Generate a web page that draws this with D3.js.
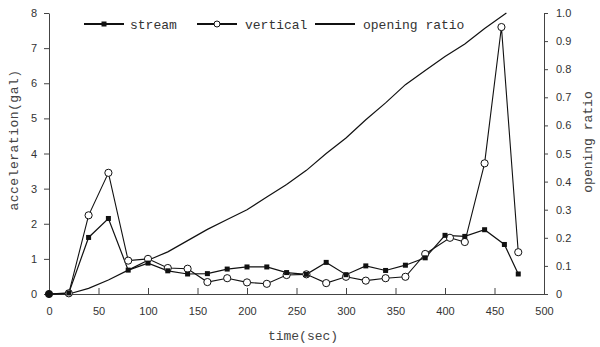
<!DOCTYPE html>
<html>
<head>
<meta charset="utf-8">
<script src="https://cdn.jsdelivr.net/npm/d3@7"></script>
<style>
  body { margin: 0; background: #fff; }
  svg text { font-family: "DejaVu Sans", sans-serif; }
  .tick text { font-family: "Liberation Sans Narrow", "Liberation Sans", sans-serif; font-size: 11px; fill: #333; }
  .axis-title { font-family: "Liberation Mono", monospace; font-size: 13px; fill: #444; }
  .legend-text { font-family: "Liberation Mono", monospace; font-size: 13px; fill: #333; }
</style>
</head>
<body>
<div id="chart"></div>
<script>
// stream acceleration (gal)
var streamTime = [0, 20, 40, 60, 80, 100, 120, 140, 160, 180, 200, 220, 240, 260, 280, 300, 320, 340, 360, 380, 400, 420, 440, 460, 474];
var streamAcc = [0, 0.03, 1.61, 2.15, 0.68, 0.88, 0.66, 0.57, 0.58, 0.71, 0.77, 0.77, 0.61, 0.56, 0.9, 0.55, 0.8, 0.67, 0.82, 1.03, 1.67, 1.64, 1.83, 1.41, 0.57];

// vertical acceleration (gal)
var verticalTime = [0, 20, 40, 60, 80, 100, 120, 140, 160, 180, 200, 220, 240, 260, 280, 300, 320, 340, 360, 380, 405, 420, 440, 457, 474];
var verticalAcc = [0, 0.02, 2.24, 3.45, 0.95, 1.0, 0.74, 0.72, 0.34, 0.45, 0.33, 0.29, 0.54, 0.56, 0.31, 0.49, 0.38, 0.45, 0.49, 1.14, 1.6, 1.48, 3.72, 7.6, 1.19];

// gate opening ratio (right axis)
var ratioTime = [0, 20, 40, 60, 80, 100, 120, 140, 160, 180, 200, 220, 240, 260, 280, 300, 320, 340, 360, 380, 400, 420, 440, 462];
var ratioValue = [0, 0, 0.02, 0.05, 0.085, 0.12, 0.15, 0.19, 0.23, 0.265, 0.3, 0.345, 0.39, 0.44, 0.5, 0.555, 0.62, 0.68, 0.745, 0.795, 0.845, 0.89, 0.945, 1.0];

var xTicks = [0, 50, 100, 150, 200, 250, 300, 350, 400, 450, 500];
var yLeftTicks = [0, 1, 2, 3, 4, 5, 6, 7, 8];
var yRightTicks = [0, 0.1, 0.2, 0.3, 0.4, 0.5, 0.6, 0.7, 0.8, 0.9, 1.0];

var width = 600, height = 347;
var margin = { top: 13, right: 56, bottom: 53, left: 49 };
var w = width - margin.left - margin.right;
var h = height - margin.top - margin.bottom;

var svg = d3.select("#chart").append("svg")
  .attr("width", width)
  .attr("height", height);

var g = svg.append("g")
  .attr("transform", "translate(" + margin.left + "," + margin.top + ")");

var x = d3.scaleLinear().domain([0, 500]).range([0, w]);
var yL = d3.scaleLinear().domain([0, 8]).range([h, 0]);
var yR = d3.scaleLinear().domain([0, 1]).range([h, 0]);

// axes
var xAxis = g.append("g")
  .attr("transform", "translate(0," + h + ")")
  .call(d3.axisBottom(x).tickValues(xTicks).tickSizeInner(-6).tickSizeOuter(0).tickPadding(13));
xAxis.selectAll(".tick line").filter(function (d) { return d === 0 || d === 500 }).remove();

g.append("g")
  .call(d3.axisLeft(yL).tickValues(yLeftTicks).tickSizeInner(5).tickSizeOuter(0).tickPadding(7));

g.append("g")
  .attr("transform", "translate(" + w + ",0)")
  .call(d3.axisRight(yR).tickValues(yRightTicks).tickSizeInner(4).tickSizeOuter(0).tickPadding(8)
    .tickFormat(function (d) { return d === 0 ? "0" : d3.format(".1f")(d) }));

g.selectAll(".domain").attr("stroke", "#444");
g.selectAll(".tick line").attr("stroke", "#444");

// lines
var streamLine = d3.line()
  .x(function (d, i) { return x(streamTime[i]) })
  .y(function (d) { return yL(d) });
var verticalLine = d3.line()
  .x(function (d, i) { return x(verticalTime[i]) })
  .y(function (d) { return yL(d) });
var ratioLine = d3.line()
  .x(function (d, i) { return x(ratioTime[i]) })
  .y(function (d) { return yR(d) });

g.append("path")
  .attr("d", ratioLine(ratioValue))
  .attr("fill", "none")
  .attr("stroke", "#111")
  .attr("stroke-width", 1.2);

g.append("path")
  .attr("d", verticalLine(verticalAcc))
  .attr("fill", "none")
  .attr("stroke", "#111")
  .attr("stroke-width", 1.1);

g.append("path")
  .attr("d", streamLine(streamAcc))
  .attr("fill", "none")
  .attr("stroke", "#111")
  .attr("stroke-width", 1.2);

g.selectAll(".vertical-dot")
  .data(verticalAcc)
  .enter()
  .append("circle")
  .attr("class", "vertical-dot")
  .attr("cx", function (d, i) { return x(verticalTime[i]) })
  .attr("cy", function (d) { return yL(d) })
  .attr("r", 3.6)
  .attr("fill", "#fff")
  .attr("stroke", "#111")
  .attr("stroke-width", 1);

g.selectAll(".stream-dot")
  .data(streamAcc)
  .enter()
  .append("rect")
  .attr("class", "stream-dot")
  .attr("x", function (d, i) { return x(streamTime[i]) - 2.5 })
  .attr("y", function (d) { return yL(d) - 2.5 })
  .attr("width", 5)
  .attr("height", 5)
  .attr("fill", "#111");

// first point shows as a solid dot
g.append("circle")
  .attr("cx", x(streamTime[0]))
  .attr("cy", yL(streamAcc[0]))
  .attr("r", 3.6)
  .attr("fill", "#111");

// legend
var legend = svg.append("g");
legend.append("line").attr("x1", 84).attr("x2", 124).attr("y1", 24).attr("y2", 24)
  .attr("stroke", "#111").attr("stroke-width", 2);
legend.append("rect").attr("x", 101.5).attr("y", 21.5).attr("width", 5).attr("height", 5).attr("fill", "#111");
legend.append("text").attr("class", "legend-text").attr("x", 130).attr("y", 29).text("stream");

legend.append("line").attr("x1", 197).attr("x2", 237).attr("y1", 24).attr("y2", 24)
  .attr("stroke", "#111").attr("stroke-width", 2);
legend.append("circle").attr("cx", 217).attr("cy", 24).attr("r", 3)
  .attr("fill", "#fff").attr("stroke", "#111").attr("stroke-width", 1);
legend.append("text").attr("class", "legend-text").attr("x", 245).attr("y", 29).text("vertical");

legend.append("line").attr("x1", 315).attr("x2", 355).attr("y1", 24).attr("y2", 24)
  .attr("stroke", "#111").attr("stroke-width", 2);
legend.append("text").attr("class", "legend-text").attr("x", 363).attr("y", 29).text("opening ratio");

// axis titles
svg.append("text").attr("class", "axis-title")
  .attr("x", 303).attr("y", 340)
  .attr("text-anchor", "middle")
  .text("time(sec)");

svg.append("text").attr("class", "axis-title")
  .attr("transform", "translate(18,140) rotate(-90)")
  .attr("text-anchor", "middle")
  .attr("letter-spacing", 0.5)
  .text("acceleration(gal)");

svg.append("text").attr("class", "axis-title")
  .attr("transform", "translate(592,142) rotate(-90)")
  .attr("text-anchor", "middle")
  .text("opening ratio");
</script>
</body>
</html>
